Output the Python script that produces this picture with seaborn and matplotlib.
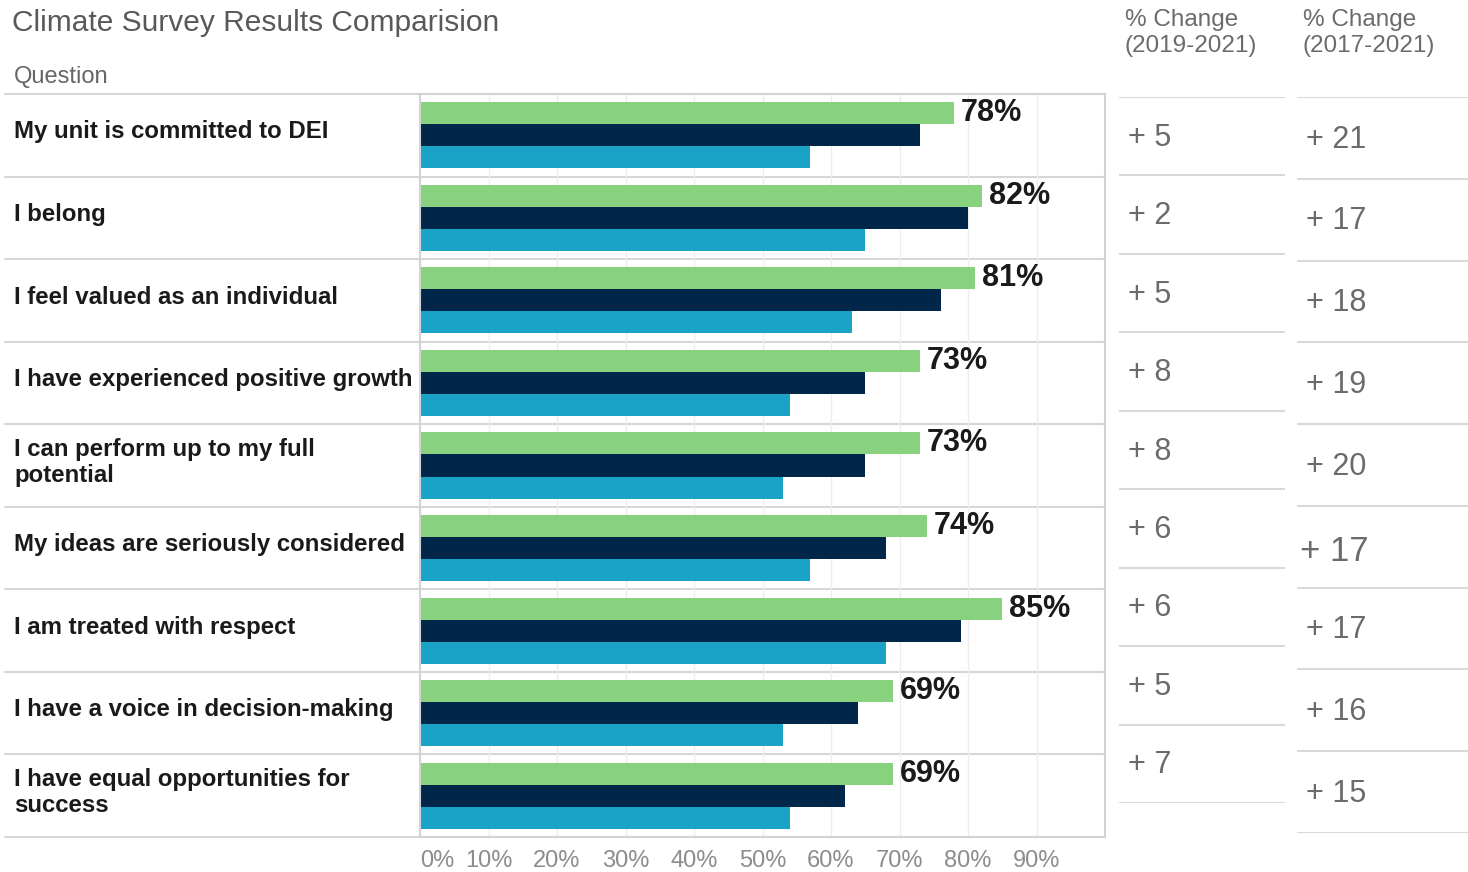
import matplotlib
matplotlib.use("Agg")
import numpy as np
import pandas as pd
import seaborn as sns
import matplotlib.pyplot as plt
from matplotlib import transforms

# ---------------- data ----------------
questions = [
    "My unit is committed to DEI",
    "I belong",
    "I feel valued as an individual",
    "I have experienced positive growth",
    "I can perform up to my full\npotential",
    "My ideas are seriously considered",
    "I am treated with respect",
    "I have a voice in decision-making",
    "I have equal opportunities for\nsuccess",
]
pct_2021 = [78, 82, 81, 73, 73, 74, 85, 69, 69]
pct_2019 = [73, 80, 76, 65, 65, 68, 79, 64, 62]
pct_2017 = [57, 65, 63, 54, 53, 57, 68, 53, 54]
chg_2019_2021 = [5, 2, 5, 8, 8, 6, 6, 5, 7]
chg_2017_2021 = [21, 17, 18, 19, 20, 17, 17, 16, 15]
years = ["2021", "2019", "2017"]
year_colors = ["#88D17F", "#00264A", "#1BA3C7"]
x_ticks = [0, 10, 20, 30, 40, 50, 60, 70, 80, 90]
title = "Climate Survey Results Comparision"
col_header = "Question"
change_headers = ["% Change\n(2019-2021)", "% Change\n(2017-2021)"]

# ---------------- style ----------------
sns.set_theme(style="white")
plt.rcParams["font.family"] = ["Liberation Sans", "DejaVu Sans"]

W, H = 1468, 872
fig = plt.figure(figsize=(W / 100, H / 100), dpi=100)


def rect(l, t, r, b):
    return [l / W, 1 - b / H, (r - l) / W, (b - t) / H]


ax = fig.add_axes(rect(420, 94, 1105, 837))

df = pd.DataFrame({
    "Question": questions * 3,
    "Year": [y for y in years for _ in questions],
    "Pct": pct_2021 + pct_2019 + pct_2017,
})

sns.barplot(data=df, y="Question", x="Pct", hue="Year", hue_order=years,
            order=questions, palette=year_colors, orient="h", width=0.8,
            saturation=1, linewidth=0, ax=ax, legend=False, errorbar=None)

ax.set_xlim(0, 100)
ax.set_ylim(len(questions) - 0.5, -0.5)
ax.set_xticks(x_ticks)
ax.set_xticklabels([f"{t}%" for t in x_ticks])
ax.tick_params(axis="x", length=0, pad=9, labelsize=17, labelcolor="#8c8c8c")
ax.get_xticklabels()[0].set_horizontalalignment("left")
ax.set_yticks([])
ax.set_xlabel("")
ax.set_ylabel("")
ax.xaxis.grid(True, color="#ededed", lw=1)
ax.set_axisbelow(True)
for s in ax.spines.values():
    s.set_color("#d3d3d3")
    s.set_linewidth(1.5)

# row separators extending into the label area
for b in np.arange(-0.5, len(questions), 1.0):
    ax.axhline(b, xmin=(5 - 420) / 685, xmax=1, color="#d6d6d6", lw=1.5,
               clip_on=False, zorder=0)

# value labels on green bars
ax.bar_label(ax.containers[0], labels=[f"{v}%" for v in pct_2021], padding=5,
             fontsize=22, fontweight="bold", color="#1a1a1a")

# row labels
trans = transforms.blended_transform_factory(fig.transFigure, ax.transData)
for i, q in enumerate(questions):
    ax.text(14 / W, i - 0.04, q, transform=trans, ha="left", va="center",
            fontsize=17.3, fontweight="bold", color="#1a1a1a", linespacing=1.15)

# titles
fig.text(12 / W, 1 - 23 / H, title, ha="left", va="center", fontsize=21.5,
         color="#595959")
fig.text(14 / W, 1 - 77 / H, col_header, ha="left", va="center", fontsize=17,
         color="#666666")

# change tables
tables = [
    (rect(1119, 97, 1285, 803), chg_2019_2021, change_headers[0], 1125, {}),
    (rect(1297, 97, 1468, 833), chg_2017_2021, change_headers[1], 1303,
     {5: 25}),
]
for r, vals, head, hx, big in tables:
    tax = fig.add_axes(r)
    tax.set_xlim(0, 1)
    tax.set_ylim(len(vals), 0)
    tax.axis("off")
    for b in range(len(vals) + 1):
        tax.axhline(b, color="#d9d9d9", lw=1.5)
    for i, v in enumerate(vals):
        fs = big.get(i, 22)
        dx = -0.04 if i in big else 0.0
        dy = 0.06 if i in big else 0.02
        tax.text(0.055 + dx, i + 0.5 + dy, f"+ {v}", ha="left", va="center",
                 fontsize=fs, color="#6b6b6b")
    fig.text(hx / W, 1 - 33 / H, head, ha="left", va="center", fontsize=17.5,
             color="#6b6b6b", linespacing=1.25)

fig.savefig("out.png", dpi=100)
